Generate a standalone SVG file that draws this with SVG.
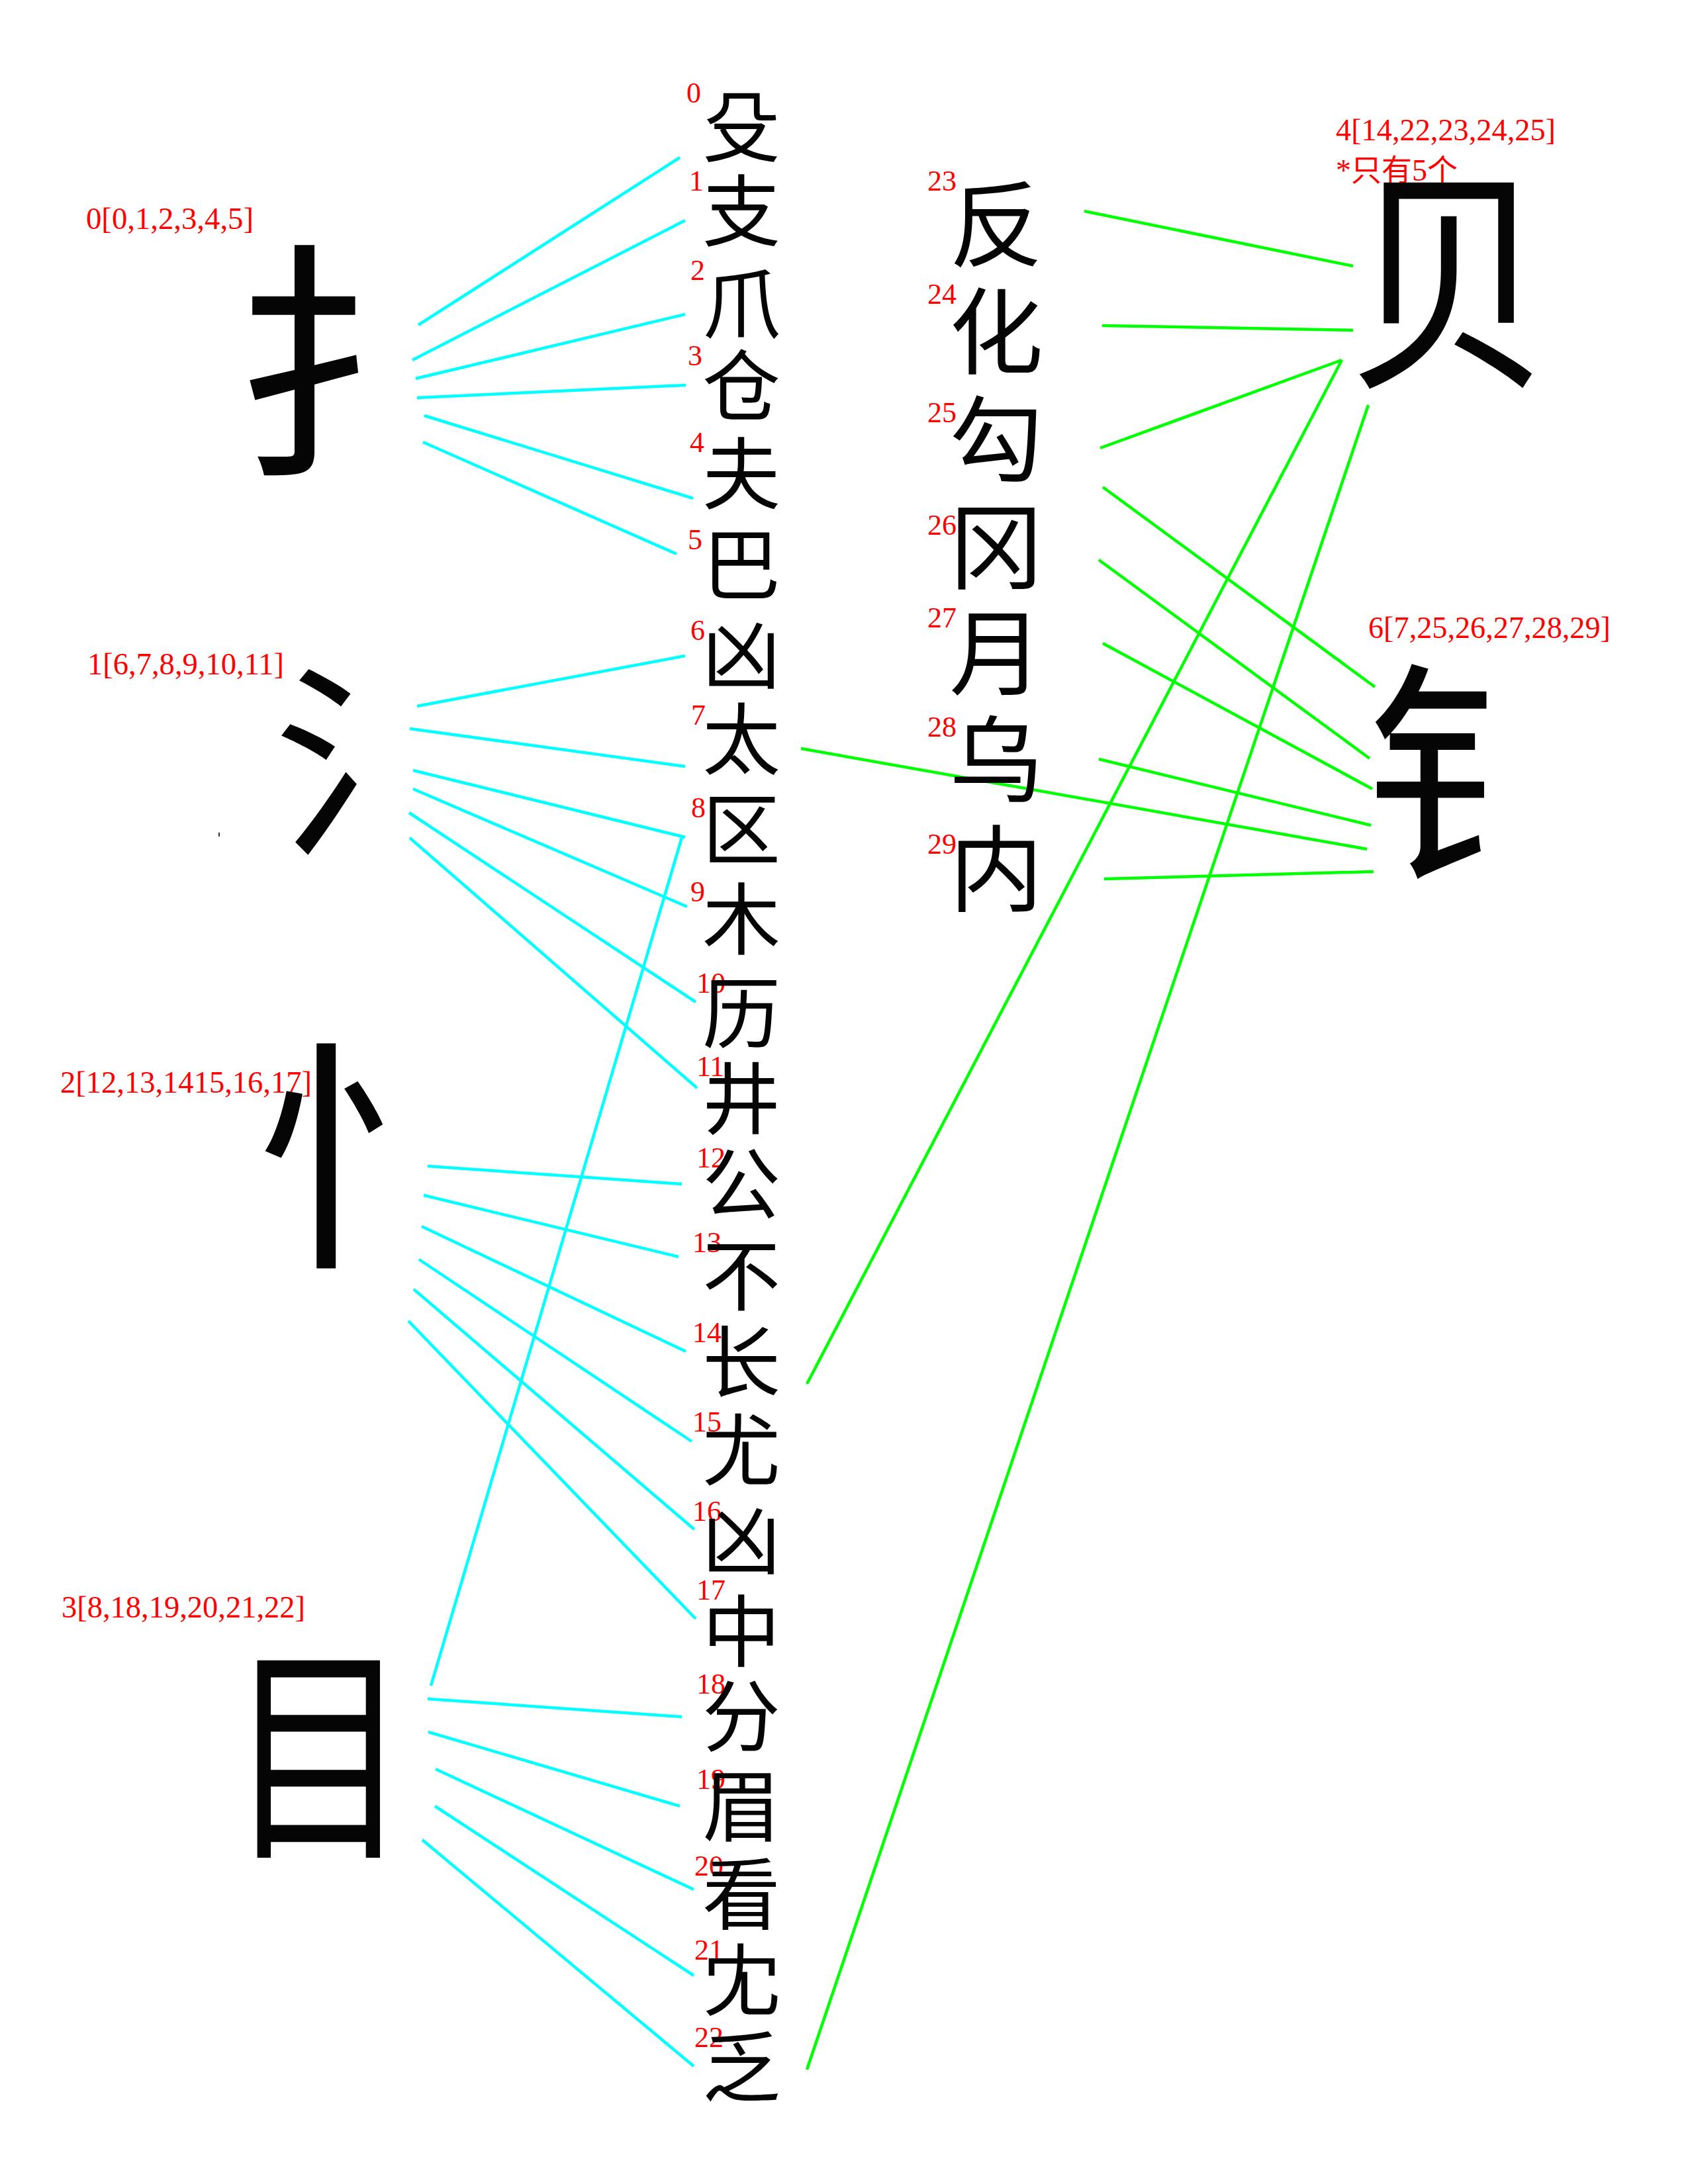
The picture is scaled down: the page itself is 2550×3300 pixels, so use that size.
<svg xmlns="http://www.w3.org/2000/svg" width="2550" height="3300" viewBox="0 0 2550 3300">
<style>
.bg{fill:#ffffff}
.c1{font-family:"Noto Sans CJK SC","Noto Sans CJK TC",sans-serif;font-size:118px;fill:#050505;text-anchor:middle}
.c2{font-family:"Noto Sans CJK SC","Noto Sans CJK TC",sans-serif;font-size:142px;fill:#050505;text-anchor:middle}
.rad{font-family:"Noto Sans CJK SC","Noto Sans CJK TC",sans-serif;fill:#050505;text-anchor:middle}
.n{font-family:"Liberation Serif","Times New Roman",serif;font-size:44px;fill:#ff0000}
.g{font-family:"Liberation Serif","Noto Sans CJK SC",serif;font-size:46px;fill:#ff0000}
.cy{stroke:#00ffff;stroke-width:4.5;fill:none}
.gr{stroke:#00ff00;stroke-width:4.5;fill:none}
</style>
<rect class="bg" x="0" y="0" width="2550" height="3300"/>

<g id="connectors">
  <g id="cyan">
    <line class="cy" x1="632" y1="491" x2="1027" y2="238"/>
    <line class="cy" x1="623" y1="544" x2="1035" y2="333"/>
    <line class="cy" x1="628" y1="572" x2="1035" y2="475"/>
    <line class="cy" x1="630" y1="601" x2="1036" y2="582"/>
    <line class="cy" x1="641" y1="628" x2="1047" y2="753"/>
    <line class="cy" x1="639" y1="668" x2="1022" y2="837"/>

    <line class="cy" x1="630" y1="1067" x2="1035" y2="991"/>
    <line class="cy" x1="619" y1="1101" x2="1035" y2="1158"/>
    <line class="cy" x1="624" y1="1164" x2="1035" y2="1265"/>
    <line class="cy" x1="624" y1="1192" x2="1038" y2="1370"/>
    <line class="cy" x1="618" y1="1228" x2="1051" y2="1514"/>
    <line class="cy" x1="619" y1="1266" x2="1053" y2="1644"/>

    <line class="cy" x1="646" y1="1762" x2="1030" y2="1789"/>
    <line class="cy" x1="640" y1="1806" x2="1025" y2="1899"/>
    <line class="cy" x1="637" y1="1853" x2="1036" y2="2042"/>
    <line class="cy" x1="633" y1="1903" x2="1045" y2="2178"/>
    <line class="cy" x1="625" y1="1948" x2="1049" y2="2311"/>
    <line class="cy" x1="617" y1="1996" x2="1051" y2="2446"/>

    <line class="cy" x1="651" y1="2547" x2="1031" y2="1262"/>
    <line class="cy" x1="646" y1="2567" x2="1030" y2="2594"/>
    <line class="cy" x1="647" y1="2617" x2="1027" y2="2729"/>
    <line class="cy" x1="658" y1="2673" x2="1048" y2="2855"/>
    <line class="cy" x1="657" y1="2729" x2="1048" y2="2985"/>
    <line class="cy" x1="638" y1="2780" x2="1048" y2="3122"/>
  </g>
  <g id="green">
    <line class="gr" x1="1638" y1="319" x2="2044" y2="402"/>
    <line class="gr" x1="1665" y1="492" x2="2044" y2="499"/>
    <line class="gr" x1="1662" y1="677" x2="2027" y2="544"/>
    <line class="gr" x1="1219" y1="2091" x2="2027" y2="544"/>
    <line class="gr" x1="1219" y1="3127" x2="2067" y2="612"/>

    <line class="gr" x1="1666" y1="736" x2="2077" y2="1038"/>
    <line class="gr" x1="1660" y1="846" x2="2069" y2="1146"/>
    <line class="gr" x1="1666" y1="972" x2="2073" y2="1192"/>
    <line class="gr" x1="1660" y1="1147" x2="2071" y2="1247"/>
    <line class="gr" x1="1210" y1="1131" x2="2065" y2="1283"/>
    <line class="gr" x1="1668" y1="1328" x2="2075" y2="1317"/>
  </g>
</g>

<g id="radical-0">
  <text class="g" x="130" y="346" textLength="253" lengthAdjust="spacingAndGlyphs">0[0,1,2,3,4,5]</text>
  <text class="rad" x="540" y="692" font-size="380">扌</text>
</g>
<g id="radical-1">
  <text class="g" x="132" y="1019" textLength="297" lengthAdjust="spacingAndGlyphs">1[6,7,8,9,10,11]</text>
  <text class="rad" x="568" y="1265" font-size="310">氵</text>
</g>
<g id="radical-2">
  <text class="g" x="91" y="1651" textLength="380" lengthAdjust="spacingAndGlyphs">2[12,13,1415,16,17]</text>
  <text class="rad" x="566" y="1885" font-size="370">忄</text>
</g>
<g id="radical-3">
  <text class="g" x="93" y="2444" textLength="368" lengthAdjust="spacingAndGlyphs">3[8,18,19,20,21,22]</text>
  <text class="rad" transform="translate(482 2781) scale(0.78 1)" x="0" y="0" font-size="350">目</text>
</g>
<g id="radical-4">
  <text class="g" x="2018" y="212" textLength="332" lengthAdjust="spacingAndGlyphs">4[14,22,23,24,25]</text>
  <text class="g" x="2018" y="273">*只有5个</text>
  <text class="rad" transform="translate(2188 559) scale(0.84 1)" x="0" y="0" font-size="360">贝</text>
</g>
<g id="radical-6">
  <text class="g" x="2067" y="964" textLength="366" lengthAdjust="spacingAndGlyphs">6[7,25,26,27,28,29]</text>
  <text class="rad" x="2237" y="1306" font-size="356">钅</text>
</g>

<g id="speck"><rect x="330" y="1258" width="2" height="6" fill="#333"/></g>

<g id="c0"><text class="n" x="1037" y="155">0</text><text class="c1" x="1120" y="235">殳</text></g>
<g id="c1"><text class="n" x="1041" y="288">1</text><text class="c1" x="1120" y="363">支</text></g>
<g id="c2"><text class="n" x="1043" y="423">2</text><text class="c1" x="1120" y="503">爪</text></g>
<g id="c3"><text class="n" x="1039" y="552">3</text><text class="c1" x="1120" y="627">仓</text></g>
<g id="c4"><text class="n" x="1042" y="683">4</text><text class="c1" x="1120" y="760">夫</text></g>
<g id="c5"><text class="n" x="1039" y="830">5</text><text class="c1" x="1120" y="897">巴</text></g>
<g id="c6"><text class="n" x="1043" y="967">6</text><text class="c1" x="1120" y="1033">凶</text></g>
<g id="c7"><text class="n" x="1044" y="1095">7</text><text class="c1" x="1120" y="1161">太</text></g>
<g id="c8"><text class="n" x="1044" y="1235">8</text><text class="c1" x="1120" y="1297">区</text></g>
<g id="c9"><text class="n" x="1043" y="1362">9</text><text class="c1" x="1120" y="1433">木</text></g>
<g id="c10"><text class="n" x="1052" y="1500">10</text><text class="c1" x="1120" y="1575">历</text></g>
<g id="c11"><text class="n" x="1052" y="1626">11</text><text class="c1" x="1120" y="1704">井</text></g>
<g id="c12"><text class="n" x="1052" y="1764">12</text><text class="c1" x="1120" y="1833">公</text></g>
<g id="c13"><text class="n" x="1046" y="1892">13</text><text class="c1" x="1120" y="1971">不</text></g>
<g id="c14"><text class="n" x="1046" y="2028">14</text><text class="c1" x="1120" y="2102">长</text></g>
<g id="c15"><text class="n" x="1046" y="2163">15</text><text class="c1" x="1120" y="2235">尤</text></g>
<g id="c16"><text class="n" x="1046" y="2298">16</text><text class="c1" x="1120" y="2371">凶</text></g>
<g id="c17"><text class="n" x="1052" y="2417">17</text><text class="c1" x="1120" y="2509">中</text></g>
<g id="c18"><text class="n" x="1052" y="2559">18</text><text class="c1" x="1120" y="2637">分</text></g>
<g id="c19"><text class="n" x="1052" y="2703">19</text><text class="c1" x="1120" y="2773">眉</text></g>
<g id="c20"><text class="n" x="1049" y="2834">20</text><text class="c1" x="1120" y="2906">看</text></g>
<g id="c21"><text class="n" x="1049" y="2961">21</text><text class="c1" x="1120" y="3036">冘</text></g>
<g id="c22"><text class="n" x="1049" y="3093">22</text><text class="c1" x="1120" y="3167">乏</text></g>

<g id="c23"><text class="n" x="1401" y="288">23</text><text class="c2" x="1505" y="392">反</text></g>
<g id="c24"><text class="n" x="1401" y="459">24</text><text class="c2" x="1505" y="554">化</text></g>
<g id="c25"><text class="n" x="1401" y="638">25</text><text class="c2" x="1505" y="717">勾</text></g>
<g id="c26"><text class="n" x="1401" y="808">26</text><text class="c2" x="1505" y="879">冈</text></g>
<g id="c27"><text class="n" x="1401" y="948">27</text><text class="c2" x="1505" y="1039">月</text></g>
<g id="c28"><text class="n" x="1401" y="1113">28</text><text class="c2" x="1505" y="1201">乌</text></g>
<g id="c29"><text class="n" x="1401" y="1290">29</text><text class="c2" x="1505" y="1366">内</text></g>
</svg>
